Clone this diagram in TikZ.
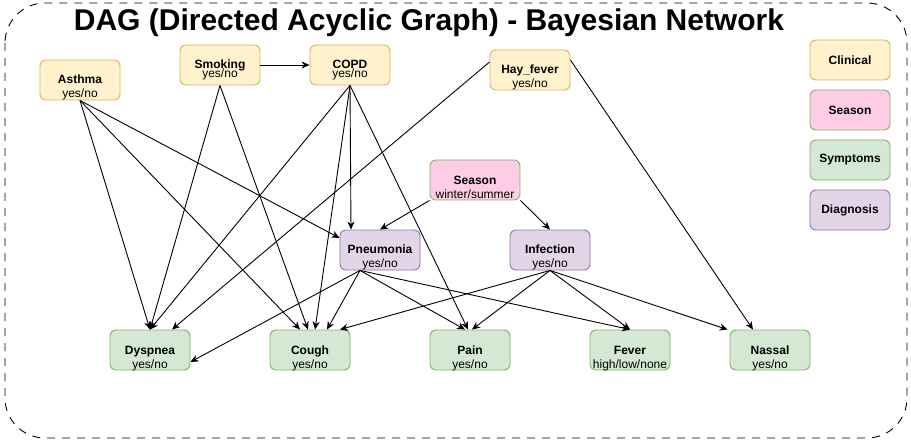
\documentclass[tikz,border=0pt]{standalone}
\usepackage{fontspec}
\setmainfont{Liberation Sans}
\usetikzlibrary{arrows.meta,calc}
\definecolor{clinF}{HTML}{FFF2CC}\definecolor{clinD}{HTML}{D6B656}
\definecolor{seasF}{HTML}{FFCCE6}\definecolor{greenD}{HTML}{82B366}
\definecolor{sympF}{HTML}{D5E8D4}
\definecolor{diagF}{HTML}{E1D5E7}\definecolor{diagD}{HTML}{9673A6}
\tikzset{
  box/.style={rectangle,rounded corners=6pt,minimum width=80pt,minimum height=40pt,line width=0.9pt,inner sep=0pt},
  clin/.style={box,fill=clinF,draw=clinD},
  seas/.style={box,fill=seasF,draw=greenD},
  symp/.style={box,fill=sympF,draw=greenD},
  diag/.style={box,fill=diagF,draw=diagD},
  nm/.style={anchor=base,inner sep=0pt,font=\fontsize{12}{14}\selectfont\bfseries},
  sub/.style={anchor=base,inner sep=0pt,font=\fontsize{12}{14}\selectfont},
  leg/.style={font=\fontsize{12}{14}\selectfont\bfseries},
  edge/.style={line width=0.9pt,-{Stealth[length=8pt,width=7pt,inset=2.5pt]}}
}
\begin{document}
\begin{tikzpicture}[x=1pt,y=-1pt]
\useasboundingbox (0,0) rectangle (911,441);
\draw[line width=0.9pt,dash pattern=on 8pt off 7pt,rounded corners=40pt] (5,3) rectangle (907,438);
\node[anchor=base,inner sep=0pt,font=\fontsize{30}{36}\selectfont\bfseries] (title) at (429,31) {DAG (Directed Acyclic Graph) - Bayesian Network};

% clinical
\node[clin] (asthma) at (80,80) {};
\node[nm] (asthma-t) at (80,84) {Asthma};
\node[sub] (asthma-s) at (80,97.5) {yes/no};
\node[clin] (smoking) at (220,65) {};
\node[nm] (smoking-t) at (220,68.5) {Smoking};
\node[sub] (smoking-s) at (220,78) {yes/no};
\node[clin] (copd) at (350,65) {};
\node[nm] (copd-t) at (350,68.5) {COPD};
\node[sub] (copd-s) at (350,78) {yes/no};
\node[clin] (hay) at (530,70) {};
\node[nm] (hay-t) at (530,74) {Hay\_fever};
\node[sub] (hay-s) at (530,88) {yes/no};

% season
\node[seas,minimum width=90pt] (season) at (475,180) {};
\node[nm] (season-t) at (475,184.3) {Season};
\node[sub] (season-s) at (475,198.3) {winter/summer};

% diagnosis
\node[diag] (pneu) at (380,250) {};
\node[nm] (pneu-t) at (380,254) {Pneumonia};
\node[sub] (pneu-s) at (380,267.5) {yes/no};
\node[diag] (infec) at (550,250) {};
\node[nm] (infec-t) at (550,254) {Infection};
\node[sub] (infec-s) at (550,267.5) {yes/no};

% symptoms
\node[symp] (dysp) at (150,350) {};
\node[nm] (dysp-t) at (150,354) {Dyspnea};
\node[sub] (dysp-s) at (150,368.3) {yes/no};
\node[symp] (cough) at (310,350) {};
\node[nm] (cough-t) at (310,354) {Cough};
\node[sub] (cough-s) at (310,368.3) {yes/no};
\node[symp] (pain) at (470,350) {};
\node[nm] (pain-t) at (470,354) {Pain};
\node[sub] (pain-s) at (470,368.3) {yes/no};
\node[symp] (fever) at (630,350) {};
\node[nm] (fever-t) at (630,354) {Fever};
\node[sub] (fever-s) at (630,368.3) {high/low/none};
\node[symp] (nassal) at (770,350) {};
\node[nm] (nassal-t) at (770,354) {Nassal};
\node[sub] (nassal-s) at (770,368.3) {yes/no};

% legend
\node[clin,leg] (l1) at (850,60) {Clinical};
\node[seas,leg] (l2) at (850,110) {Season};
\node[symp,leg] (l3) at (850,160) {Symptoms};
\node[diag,leg] (l4) at (850,210) {Diagnosis};

% edges
\draw[edge] (smoking.east) -- (copd.west);
\draw[edge] (asthma.south) -- (dysp.north);
\draw[edge] (asthma.south) -- ($(cough.north)+(-10,0)$);
\draw[edge] (asthma.south) -- ($(pneu.west)+(0,-12)$);
\draw[edge] (smoking.south) -- (dysp.north);
\draw[edge] (smoking.south) -- ($(cough.north)+(-2,0)$);
\draw[edge] (copd.south) -- (dysp.north);
\draw[edge] (copd.south) -- ($(cough.north)+(5,0)$);
\draw[edge] (copd.south) -- ($(pneu.north)+(-29,0)$);
\draw[edge] (copd.south) -- ($(pain.north)+(-2,0)$);
\draw[edge] ($(hay.west)+(0,-8)$) -- ($(dysp.north)+(22,0)$);
\draw[edge] ($(hay.east)+(0,-10)$) -- ($(nassal.north)+(-17,0)$);
\draw[edge] (season.south west) -- (pneu.north);
\draw[edge] (season.south east) -- (infec.north);
\draw[edge] ($(pneu.south)+(-20,0)$) -- ($(dysp.east)+(0,12)$);
\draw[edge] ($(pneu.south)+(-20,0)$) -- ($(cough.north)+(17,0)$);
\draw[edge] ($(pneu.south)+(-20,0)$) -- ($(pain.north)+(-5,0)$);
\draw[edge] ($(pneu.south)+(-20,0)$) -- (fever.north);
\draw[edge] (infec.south) -- ($(cough.north)+(30,0)$);
\draw[edge] (infec.south) -- ($(pain.north)+(2,0)$);
\draw[edge] (infec.south) -- (fever.north);
\draw[edge] (infec.south) -- ($(nassal.north west)+(-2,0)$);
\end{tikzpicture}
\end{document}
